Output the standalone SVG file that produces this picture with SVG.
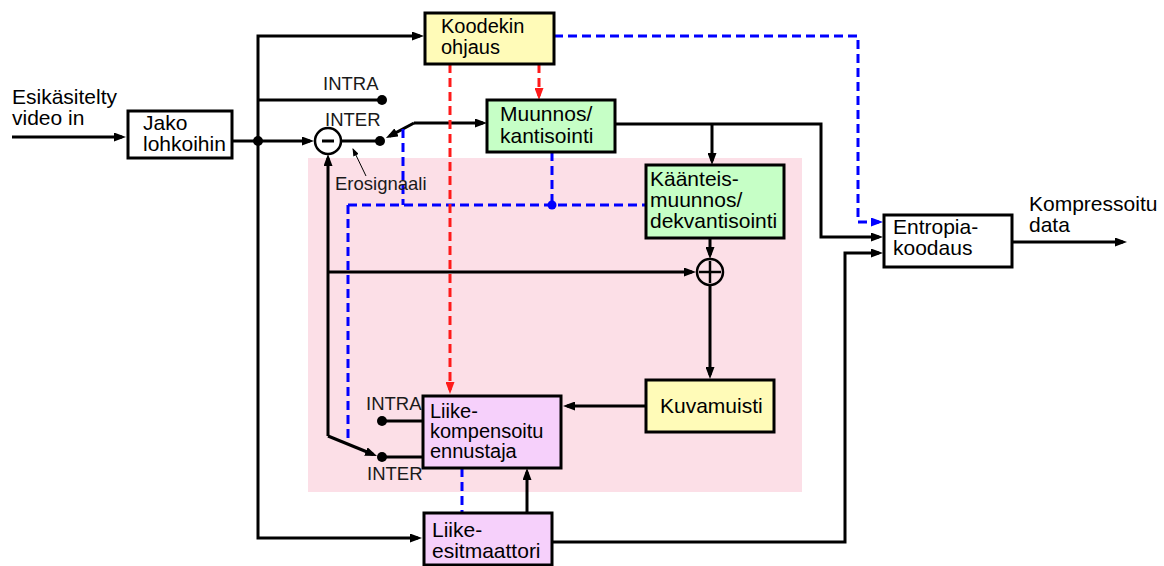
<svg xmlns="http://www.w3.org/2000/svg" width="1164" height="566" viewBox="0 0 1164 566">
  <style>
    text { font-family: "Liberation Sans", Arial, sans-serif; font-size: 21px; fill: #000; }
    text.tight { font-size: 20px; }
    text.small { font-size: 18.5px; fill: #1a1a1a; }
    .box { stroke: #000; stroke-width: 3; }
    .yellow { fill: #FFFBB8; }
    .green { fill: #C6FFC6; }
    .violet { fill: #F6D0FB; }
    .white { fill: #FFFFFF; }
    .wire { fill: none; stroke: #000; stroke-width: 3; }
    .ctrl { fill: none; stroke: #0000FF; stroke-width: 3; stroke-dasharray: 9 5; }
    .sel { fill: none; stroke: #FF1A1A; stroke-width: 3; stroke-dasharray: 9 5; }
  </style>
  <defs>
    <marker id="arr" viewBox="0 0 12 9" refX="8" refY="4.5" markerWidth="12" markerHeight="9" markerUnits="userSpaceOnUse" orient="auto">
      <path d="M0,0 L12,4.5 L0,9 z" fill="#000" stroke="none"/>
    </marker>
    <marker id="arrBlue" viewBox="0 0 12 9" refX="8" refY="4.5" markerWidth="12" markerHeight="9" markerUnits="userSpaceOnUse" orient="auto">
      <path d="M0,0 L12,4.5 L0,9 z" fill="#0000FF" stroke="none"/>
    </marker>
    <marker id="arrRed" viewBox="0 0 12 9" refX="8" refY="4.5" markerWidth="12" markerHeight="9" markerUnits="userSpaceOnUse" orient="auto">
      <path d="M0,0 L12,4.5 L0,9 z" fill="#FF1A1A" stroke="none"/>
    </marker>
    <marker id="arrThin" viewBox="0 0 8 6" refX="7" refY="3" markerWidth="8" markerHeight="6" markerUnits="userSpaceOnUse" orient="auto">
      <path d="M0,0 L8,3 L0,6 z" fill="#000" stroke="none"/>
    </marker>
  </defs>

  <!-- background of the local decoding loop -->
  <rect id="decoder-loop" x="308" y="158" width="494" height="334" fill="#FCDFE7"/>

  <!-- connectors -->
  <g id="connectors">
    <!-- input and block splitting -->
    <path class="wire" d="M12,137 H122" marker-end="url(#arr)"/>
    <path class="wire" d="M232,141 H310" marker-end="url(#arr)"/>
    <path class="wire" d="M258,141 V36 H420" marker-end="url(#arr)"/>
    <path class="wire" d="M258,141 V538 H418" marker-end="url(#arr)"/>
    <path class="wire" d="M258,100 H382"/>
    <circle cx="258" cy="141" r="5" fill="#000"/>
    <circle cx="382" cy="100" r="5" fill="#000"/>

    <!-- difference signal and mode switch -->
    <path class="wire" d="M341,141 H380"/>
    <circle cx="380" cy="141" r="5" fill="#000"/>
    <path class="wire" d="M414,123 L389.5,136.1" marker-end="url(#arr)"/>
    <path class="wire" d="M414,123 H483" marker-end="url(#arr)"/>
    <path d="M366,176 L353,149" fill="none" stroke="#000" stroke-width="1" marker-end="url(#arrThin)"/>

    <!-- transform output -->
    <path class="wire" d="M615,124 H821 V237 H879" marker-end="url(#arr)"/>
    <path class="wire" d="M712,124 V161" marker-end="url(#arr)"/>
    <path class="wire" d="M710,238 V255" marker-end="url(#arr)"/>

    <!-- reconstruction -->
    <path class="wire" d="M327,272 H692" marker-end="url(#arr)"/>
    <path class="wire" d="M710,285 V375" marker-end="url(#arr)"/>
    <path class="wire" d="M646,406 H567" marker-end="url(#arr)"/>

    <!-- prediction feedback and switch -->
    <path class="wire" d="M328,436 V158" marker-end="url(#arr)"/>
    <path class="wire" d="M328,436 L373.3,454.5" marker-end="url(#arr)"/>
    <path class="wire" d="M382,421 H423"/>
    <path class="wire" d="M382,457 H423"/>
    <circle cx="382" cy="421" r="5" fill="#000"/>
    <circle cx="382" cy="457" r="5" fill="#000"/>

    <!-- motion estimation -->
    <path class="wire" d="M527,513 V472" marker-end="url(#arr)"/>
    <path class="wire" d="M552,542 H845 V253 H879" marker-end="url(#arr)"/>

    <!-- output -->
    <path class="wire" d="M1012,242 H1123" marker-end="url(#arr)"/>

    <!-- control signals (blue) -->
    <path class="ctrl" d="M554,36 H858 V222 H879" marker-end="url(#arrBlue)"/>
    <path class="ctrl" d="M552,152 V205"/>
    <path class="ctrl" d="M348,205 H646"/>
    <path class="ctrl" d="M403,129 V205"/>
    <path class="ctrl" d="M348,205 V440"/>
    <path class="ctrl" d="M462,468 V513"/>
    <circle cx="552" cy="205" r="4.5" fill="#0000FF"/>

    <!-- codec control (red) -->
    <path class="sel" d="M450,64 V390" marker-end="url(#arrRed)"/>
    <path class="sel" d="M539,64 V96" marker-end="url(#arrRed)"/>
  </g>

  <!-- free labels -->
  <g id="labels">
    <text x="12" y="104">Esikäsitelty</text>
    <text x="12" y="125">video in</text>
    <text class="small" x="323" y="90">INTRA</text>
    <text class="small" x="325" y="126">INTER</text>
    <text class="small" x="335" y="190">Erosignaali</text>
    <text class="small" x="366" y="410">INTRA</text>
    <text class="small" x="367" y="480">INTER</text>
    <text x="1029" y="211">Kompressoitu</text>
    <text x="1029" y="232">data</text>
  </g>

  <g id="subtractor">
    <circle cx="328" cy="141" r="13" fill="#fff" stroke="#000" stroke-width="2.5"/>
    <line x1="322" y1="141" x2="334" y2="141" stroke="#000" stroke-width="3"/>
  </g>

  <g id="adder">
    <circle cx="710" cy="272" r="13" fill="none" stroke="#000" stroke-width="2.5"/>
    <line x1="699" y1="272" x2="721" y2="272" stroke="#000" stroke-width="2.5"/>
    <line x1="710" y1="261" x2="710" y2="283" stroke="#000" stroke-width="2.5"/>
  </g>

  <g id="jako">
    <rect class="box white" x="128" y="111" width="104" height="47"/>
    <text x="143" y="130">Jako</text>
    <text x="143" y="151">lohkoihin</text>
  </g>

  <g id="koodekin-ohjaus">
    <rect class="box yellow" x="425" y="13" width="129" height="51"/>
    <text class="tight" x="441" y="33">Koodekin</text>
    <text class="tight" x="441" y="54">ohjaus</text>
  </g>

  <g id="muunnos">
    <rect class="box green" x="487" y="100" width="128" height="52"/>
    <text x="500" y="121">Muunnos/</text>
    <text x="500" y="143">kantisointi</text>
  </g>

  <g id="kaanteismuunnos">
    <rect class="box green" x="646" y="165" width="138" height="73"/>
    <text x="650" y="186">Käänteis-</text>
    <text x="650" y="207">muunnos/</text>
    <text x="650" y="228">dekvantisointi</text>
  </g>

  <g id="entropiakoodaus">
    <rect class="box white" x="884" y="215" width="128" height="52"/>
    <text x="893" y="234">Entropia-</text>
    <text x="893" y="255">koodaus</text>
  </g>

  <g id="kuvamuisti">
    <rect class="box yellow" x="646" y="380" width="128" height="52"/>
    <text x="660" y="413">Kuvamuisti</text>
  </g>

  <g id="liikekompensoitu-ennustaja">
    <rect class="box violet" x="423" y="396" width="138" height="72"/>
    <text class="tight" x="430" y="418">Liike-</text>
    <text class="tight" x="430" y="438">kompensoitu</text>
    <text class="tight" x="430" y="458">ennustaja</text>
  </g>

  <g id="liike-esitmaattori">
    <rect class="box violet" x="424" y="513" width="128" height="52"/>
    <text x="432" y="537">Liike-</text>
    <text x="432" y="558">esitmaattori</text>
  </g>
</svg>
